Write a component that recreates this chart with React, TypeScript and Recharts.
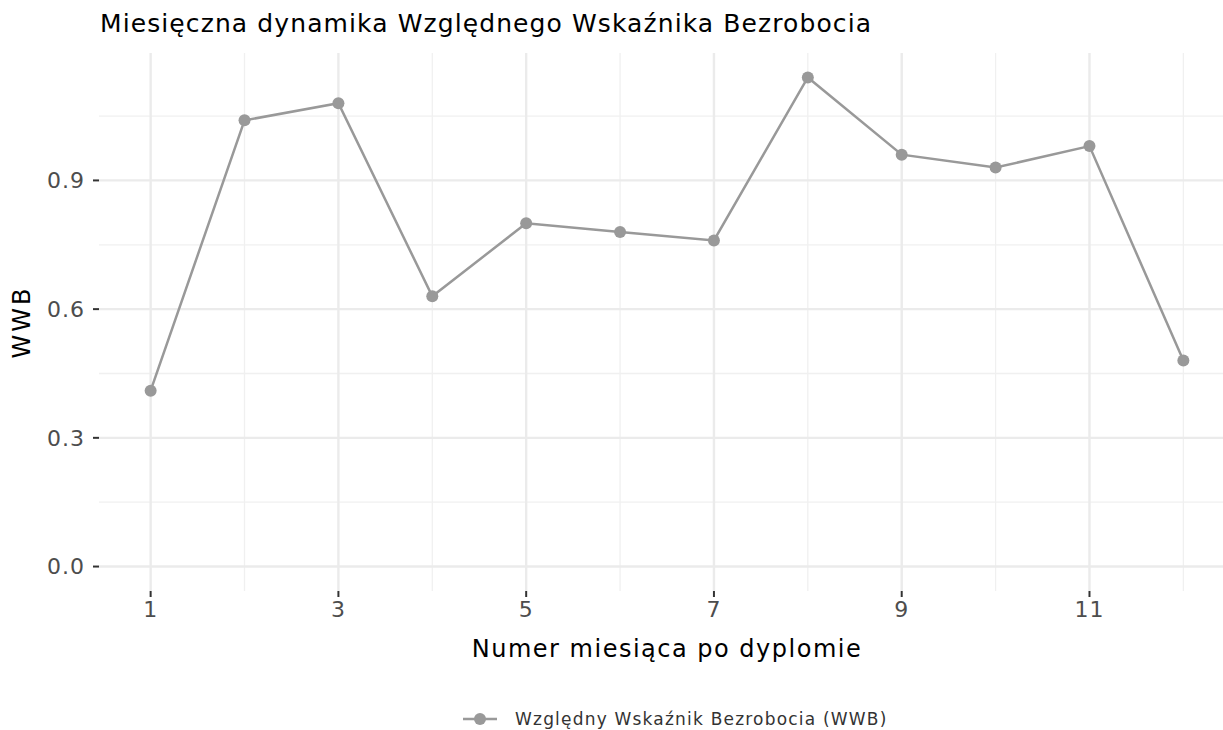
import { LineChart, Line, XAxis, YAxis, ReferenceLine } from 'recharts';

const months = [1, 2, 3, 4, 5, 6, 7, 8, 9, 10, 11, 12];
const wwb = [0.41, 1.04, 1.08, 0.63, 0.8, 0.78, 0.76, 1.14, 0.96, 0.93, 0.98, 0.48];

const xTicks = [1, 3, 5, 7, 9, 11];
const xMinor = [2, 4, 6, 8, 10, 12];
const yTicks = [0, 0.3, 0.6, 0.9];
const yMinor = [0.15, 0.45, 0.75, 1.05];

const data = months.map((m, i) => ({ month: m, wwb: wwb[i] }));

const FONT = '"DejaVu Sans", sans-serif';
const SERIES_NAME = 'Względny Wskaźnik Bezrobocia (WWB)';

export default function App() {
  return (
    <div style={{ position: 'absolute', left: 0, top: 0, width: 1223, height: 730, overflow: 'hidden', background: '#fff', fontFamily: FONT }}>
      <div style={{ position: 'absolute', left: 100, top: 9, fontSize: 25, letterSpacing: 1.1, color: '#000', whiteSpace: 'nowrap' }}>
        Miesięczna dynamika Względnego Wskaźnika Bezrobocia
      </div>
      <div style={{ position: 'absolute', left: 22, top: 322, transform: 'translate(-50%, -50%) rotate(-90deg)', fontSize: 24, letterSpacing: 3, color: '#000', whiteSpace: 'nowrap' }}>
        WWB
      </div>
      <div style={{ position: 'absolute', left: 667, top: 649, transform: 'translate(-50%, -50%)', fontSize: 24, letterSpacing: 1.5, color: '#000', whiteSpace: 'nowrap' }}>
        Numer miesiąca po dyplomie
      </div>
      <div style={{ position: 'absolute', left: 463, top: 708, display: 'flex', alignItems: 'center', height: 22, lineHeight: '20px', whiteSpace: 'nowrap' }}>
        <svg width={34} height={22}>
          <line x1={0} y1={11} x2={34} y2={11} stroke="#999999" strokeWidth={2.5} />
          <circle cx={17} cy={11} r={6} fill="#999999" />
        </svg>
        <span style={{ marginLeft: 18, fontSize: 17, letterSpacing: 1.2, color: '#333' }}>{SERIES_NAME}</span>
      </div>
      <div style={{ position: 'absolute', left: 0, top: 0 }}>
        <LineChart width={1240} height={730} data={data} margin={{ top: 53, right: 5, left: 0, bottom: 109 }}>
          {xMinor.map((v) => (
            <ReferenceLine key={'xm' + v} x={v} stroke="#F0F0F0" strokeWidth={1.3} />
          ))}
          {yMinor.map((v) => (
            <ReferenceLine key={'ym' + v} y={v} stroke="#F0F0F0" strokeWidth={1.3} />
          ))}
          {xTicks.map((v) => (
            <ReferenceLine key={'xM' + v} x={v} stroke="#EBEBEB" strokeWidth={2.4} />
          ))}
          {yTicks.map((v) => (
            <ReferenceLine key={'yM' + v} y={v} stroke="#EBEBEB" strokeWidth={2.4} />
          ))}
          <XAxis
            dataKey="month"
            type="number"
            domain={[0.45, 12.55]}
            ticks={xTicks}
            allowDataOverflow
            axisLine={false}
            tickSize={6}
            tickMargin={4}
            tickLine={{ stroke: '#333333', strokeWidth: 2 }}
            tick={{ fill: '#4D4D4D', fontSize: 22, letterSpacing: 1, fontFamily: FONT }}
            height={30}
          />
          <YAxis
            type="number"
            domain={[-0.057, 1.197]}
            ticks={yTicks}
            allowDataOverflow
            axisLine={false}
            tickSize={6}
            tickMargin={8}
            tickLine={{ stroke: '#333333', strokeWidth: 2 }}
            tick={{ fill: '#4D4D4D', fontSize: 22, letterSpacing: 1, fontFamily: FONT }}
            tickFormatter={(v: number) => v.toFixed(1)}
            width={99}
          />
          <Line
            type="linear"
            dataKey="wwb"
            name={SERIES_NAME}
            stroke="#999999"
            strokeWidth={2.5}
            dot={{ r: 6, fill: '#999999', stroke: 'none' }}
            activeDot={false}
            isAnimationActive={false}
          />
        </LineChart>
      </div>
    </div>
  );
}
